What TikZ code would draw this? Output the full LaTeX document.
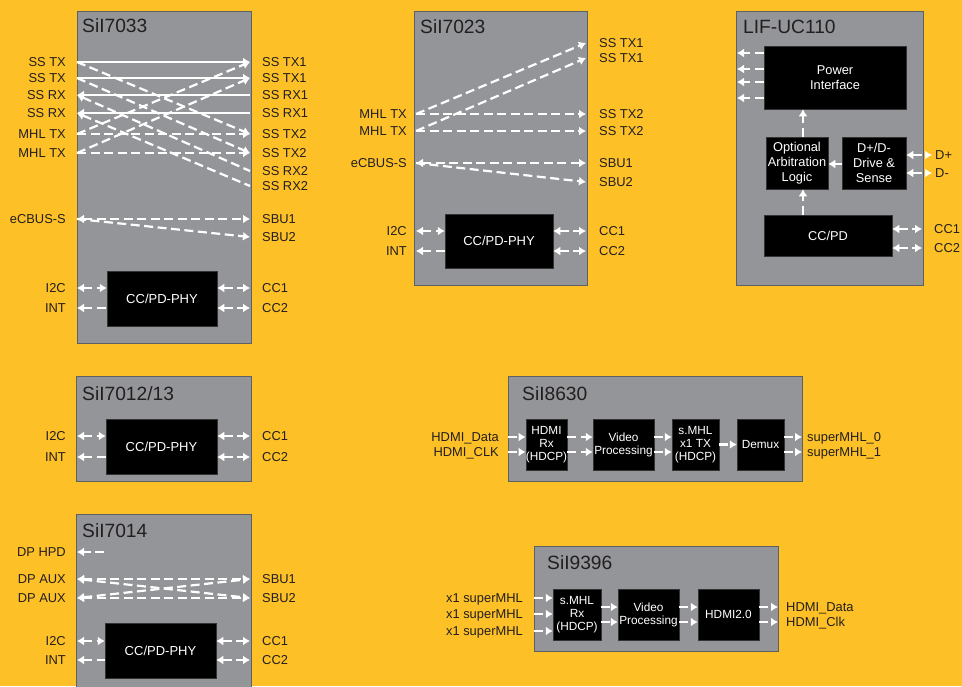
\documentclass[tikz,border=0pt]{standalone}
\usepackage{fontspec}
\setmainfont{Liberation Sans}
\usetikzlibrary{arrows.meta}
\definecolor{bgy}{RGB}{253,192,39}
\definecolor{chipg}{RGB}{147,149,152}
\definecolor{chipe}{RGB}{95,96,98}
\definecolor{ink}{RGB}{35,31,32}
\begin{document}
\begin{tikzpicture}[x=1pt,y=-1pt,
  >={Latex[length=7pt,width=9pt]},
  chip/.style={draw=chipe, fill=chipg, line width=0.9pt, anchor=north west, inner sep=0pt},
  blk/.style={fill=black, draw=black!80, line width=0.5pt, text=white, align=center, inner sep=0pt},
  phyf/.style={font=\fontsize{13}{15}\selectfont},
  lif/.style={font=\fontsize{12.8}{14.7}\selectfont},
  small/.style={font=\fontsize{11.8}{13}\selectfont},
  lbl/.style={text=ink, font=\fontsize{12.9}{14}\selectfont, inner sep=0pt, text height=9.2pt, text depth=0pt},
  lL/.style={lbl, anchor=east},
  lR/.style={lbl, anchor=west},
  ttl/.style={text=ink, font=\fontsize{19.2}{22}\selectfont, inner sep=0pt, anchor=west, text height=13.7pt, text depth=0pt},
  sig/.style={draw=white, line width=2.2pt},
  dsh/.style={sig, dash pattern=on 9pt off 4.5pt}]
\fill[bgy] (0,0) rectangle (962,686);
\useasboundingbox (0,0) rectangle (962,686);

% ================= SiI7033 =================
\node[chip, minimum width=174pt, minimum height=332pt] (A) at (77,11) {};
\node[ttl] (A-t) at (82,26) {SiI7033};
\foreach \t/\y [count=\i] in {SS TX/62, SS TX/78, SS RX/95, SS RX/113, MHL TX/134, MHL TX/153, eCBUS-S/219, I2C/288, INT/308}
  {\node[lL] (A-l\i) at (66,\y) {\t}; \coordinate (A-pl\i) at (77,\y);}
\foreach \t/\y [count=\i] in {SS TX1/62, SS TX1/78, SS RX1/95, SS RX1/113, SS TX2/134, SS TX2/153, SS RX2/171, SS RX2/186, SBU1/219, SBU2/237, CC1/288, CC2/308}
  {\node[lR] (A-r\i) at (262,\y) {\t}; \coordinate (A-pr\i) at (250,\y);}
\draw[dsh,->] (A-pl1) -- (A-pr5);
\draw[dsh,->] (A-pl2) -- (A-pr6);
\draw[dsh,<-] (A-pl3) -- (A-pr7);
\draw[dsh,<-] (A-pl4) -- (A-pr8);
\draw[dsh,->] (A-pl5) -- (A-pr1);
\draw[dsh,->] (A-pl6) -- (A-pr2);
\draw[dsh,->] (A-pl5) -- (A-pr5);
\draw[dsh,->] (A-pl6) -- (A-pr6);
\draw[sig,->] (A-pl1) -- (A-pr1);
\draw[sig,->] (A-pl2) -- (A-pr2);
\draw[sig,<-] (A-pl3) -- (A-pr3);
\draw[sig,<-] (A-pl4) -- (A-pr4);
\draw[dsh,<->] (A-pl7) -- (A-pr9);
\draw[dsh,->] (A-pl7) -- (A-pr10);
\node[blk, phyf, minimum width=110pt, minimum height=55pt] (A-phy) at (162,298.5) {CC/PD-PHY};
\draw[dsh,<->] (A-pl8) -- (A-phy.west |- A-pl8);
\draw[dsh,<-] (A-pl9) -- (A-phy.west |- A-pl9);
\draw[dsh,<->] (A-phy.east |- A-pr11) -- (A-pr11);
\draw[dsh,<->] (A-phy.east |- A-pr12) -- (A-pr12);

% ================= SiI7023 =================
\node[chip, minimum width=173pt, minimum height=274pt] (B) at (414,11) {};
\node[ttl] (B-t) at (420,27) {SiI7023};
\foreach \t/\y [count=\i] in {MHL TX/114, MHL TX/131, eCBUS-S/163, I2C/231, INT/251}
  {\node[lL] (B-l\i) at (407,\y) {\t}; \coordinate (B-pl\i) at (416,\y);}
\foreach \t/\y [count=\i] in {SS TX1/43, SS TX1/58, SS TX2/114, SS TX2/131, SBU1/163, SBU2/182, CC1/231, CC2/251}
  {\node[lR] (B-r\i) at (599,\y) {\t}; \coordinate (B-pr\i) at (586,\y);}
\draw[dsh,->] (B-pl1) -- (B-pr1);
\draw[dsh,->] (B-pl2) -- (B-pr2);
\draw[dsh,->] (B-pl1) -- (B-pr3);
\draw[dsh,->] (B-pl2) -- (B-pr4);
\draw[dsh,<->] (B-pl3) -- (B-pr5);
\draw[dsh,->] (B-pl3) -- (B-pr6);
\node[blk, phyf, minimum width=108pt, minimum height=54pt] (B-phy) at (499,241) {CC/PD-PHY};
\draw[dsh,<->] (B-pl4) -- (B-phy.west |- B-pl4);
\draw[dsh,<-] (B-pl5) -- (B-phy.west |- B-pl5);
\draw[dsh,<->] (B-phy.east |- B-pr7) -- (B-pr7);
\draw[dsh,<->] (B-phy.east |- B-pr8) -- (B-pr8);

% ================= LIF-UC110 =================
\node[chip, minimum width=187pt, minimum height=274pt] (C) at (736,11) {};
\node[ttl] (C-t) at (743,27) {LIF-UC110};
\node[blk, lif, minimum width=142pt, minimum height=63pt] (C-pi) at (835,77.5) {Power\\Interface};
\node[blk, lif, minimum width=62pt, minimum height=52pt] (C-oal) at (797,163) {Optional\\Arbitration\\Logic};
\node[blk, lif, minimum width=64pt, minimum height=52pt] (C-dd) at (874,163) {D+/D-\\Drive \&\\Sense};
\node[blk, lif, minimum width=128pt, minimum height=41pt] (C-cc) at (828,235.5) {CC/PD};
\foreach \y [count=\i] in {53,69,82,98}
  {\coordinate (C-o\i) at (737,\y); \draw[dsh,->] (C-pi.west |- C-o\i) -- (C-o\i);}
\coordinate (C-x) at (803,0);
\draw[dsh,->] (C-oal.north -| C-x) -- (C-pi.south -| C-x);
\draw[dsh,->] (C-cc.north -| C-x) -- (C-oal.south -| C-x);
\draw[dsh,->] (C-dd.west |- 0,164) -- (C-oal.east |- 0,164);
\foreach \t/\y [count=\i] in {D+/155, D-/173}
  {\node[lR] (C-d\i) at (935,\y) {\t}; \coordinate (C-pd\i) at (932,\y);
   \draw[dsh,<->] (C-dd.east |- C-pd\i) -- (C-pd\i);}
\foreach \t/\y [count=\i] in {CC1/229, CC2/248}
  {\node[lR] (C-c\i) at (934,\y) {\t}; \coordinate (C-pc\i) at (922,\y);
   \draw[dsh,<->] (C-cc.east |- C-pc\i) -- (C-pc\i);}

% ================= SiI7012/13 =================
\node[chip, minimum width=175pt, minimum height=105pt] (D) at (76,376) {};
\node[ttl] (D-t) at (82,394) {SiI7012/13};
\node[blk, phyf, minimum width=111pt, minimum height=55pt] (D-phy) at (161.5,446.5) {CC/PD-PHY};
\foreach \t/\y [count=\i] in {I2C/436, INT/457}
  {\node[lL] (D-l\i) at (66,\y) {\t}; \coordinate (D-pl\i) at (77,\y);}
\foreach \t/\y [count=\i] in {CC1/436, CC2/457}
  {\node[lR] (D-r\i) at (262,\y) {\t}; \coordinate (D-pr\i) at (250,\y);
   \draw[dsh,<->] (D-phy.east |- D-pr\i) -- (D-pr\i);}
\draw[dsh,<->] (D-pl1) -- (D-phy.west |- D-pl1);
\draw[dsh,<-] (D-pl2) -- (D-phy.west |- D-pl2);

% ================= SiI7014 =================
\node[chip, minimum width=175pt, minimum height=190pt] (E) at (76,514) {};
\node[ttl] (E-t) at (82,531) {SiI7014};
\node[lL] (E-hpd) at (66,552) {DP HPD};
\coordinate (E-ph) at (77,552);
\coordinate (E-ph2) at (104,552);
\draw[dsh,->] (E-ph2) -- (E-ph);
\foreach \t/\y [count=\i] in {DP AUX/579, DP AUX/598, I2C/641, INT/660}
  {\node[lL] (E-l\i) at (66,\y) {\t}; \coordinate (E-pl\i) at (77,\y);}
\foreach \t/\y [count=\i] in {SBU1/579, SBU2/598, CC1/641, CC2/660}
  {\node[lR] (E-r\i) at (262,\y) {\t}; \coordinate (E-pr\i) at (250,\y);}
\draw[dsh,<->] (E-pl1) -- (E-pr1);
\draw[dsh,<->] (E-pl2) -- (E-pr2);
\draw[dsh,<->] (E-pl1) -- (E-pr2);
\draw[dsh,<->] (E-pl2) -- (E-pr1);
\node[blk, phyf, minimum width=111pt, minimum height=55pt] (E-phy) at (160.5,650.5) {CC/PD-PHY};
\draw[dsh,<->] (E-pl3) -- (E-phy.west |- E-pl3);
\draw[dsh,<-] (E-pl4) -- (E-phy.west |- E-pl4);
\draw[dsh,<->] (E-phy.east |- E-pr3) -- (E-pr3);
\draw[dsh,<->] (E-phy.east |- E-pr4) -- (E-pr4);

% ================= SiI8630 =================
\node[chip, minimum width=294pt, minimum height=105pt] (F) at (508,376) {};
\node[ttl] (F-t) at (522,394) {SiI8630};
\node[blk, small, minimum width=39pt, minimum height=51pt] (F-rx) at (546.5,444.5) {HDMI\\Rx\\(HDCP)};
\node[blk, small, minimum width=61pt, minimum height=51pt] (F-vp) at (623.5,444.5) {Video\\Processing};
\node[blk, small, minimum width=47pt, minimum height=51pt] (F-tx) at (695.5,444.5) {s.MHL\\x1 TX\\(HDCP)};
\node[blk, small, minimum width=47pt, minimum height=51pt] (F-dm) at (760.5,444.5) {Demux};
\foreach \t/\y [count=\i] in {HDMI\_Data/437, HDMI\_CLK/452}
  {\node[lL] (F-l\i) at (499,\y) {\t}; \coordinate (F-pl\i) at (508,\y);
   \draw[dsh,->] (F-pl\i) -- (F-rx.west |- F-pl\i);
   \draw[dsh,->] (F-rx.east |- F-pl\i) -- (F-vp.west |- F-pl\i);
   \draw[dsh,->] (F-vp.east |- F-pl\i) -- (F-tx.west |- F-pl\i);}
\draw[dsh,->] (F-tx.east) -- (F-dm.west);
\foreach \t/\y [count=\i] in {superMHL\_0/437, superMHL\_1/452}
  {\node[lR] (F-r\i) at (807,\y) {\t}; \coordinate (F-pr\i) at (802,\y);
   \draw[dsh,->] (F-dm.east |- F-pr\i) -- (F-pr\i);}

% ================= SiI9396 =================
\node[chip, minimum width=244pt, minimum height=105pt] (G) at (534,546) {};
\node[ttl] (G-t) at (547,563) {SiI9396};
\node[blk, small, minimum width=48pt, minimum height=51pt] (G-rx) at (577,614.5) {s.MHL\\Rx\\(HDCP)};
\node[blk, small, minimum width=61pt, minimum height=51pt] (G-vp) at (648.5,614.5) {Video\\Processing};
\node[blk, small, minimum width=61pt, minimum height=51pt] (G-hd) at (728.5,614.5) {HDMI2.0};
\foreach \y [count=\i] in {598, 614, 631}
  {\node[lL] (G-l\i) at (523,\y) {x1 superMHL}; \coordinate (G-pl\i) at (534,\y);
   \draw[dsh,->] (G-pl\i) -- (G-rx.west |- G-pl\i);}
\foreach \t/\y [count=\i] in {HDMI\_Data/607, HDMI\_Clk/622}
  {\node[lR] (G-r\i) at (786,\y) {\t}; \coordinate (G-pr\i) at (778,\y);
   \draw[dsh,->] (G-rx.east |- G-pr\i) -- (G-vp.west |- G-pr\i);
   \draw[dsh,->] (G-vp.east |- G-pr\i) -- (G-hd.west |- G-pr\i);
   \draw[dsh,->] (G-hd.east |- G-pr\i) -- (G-pr\i);}
\end{tikzpicture}
\end{document}
